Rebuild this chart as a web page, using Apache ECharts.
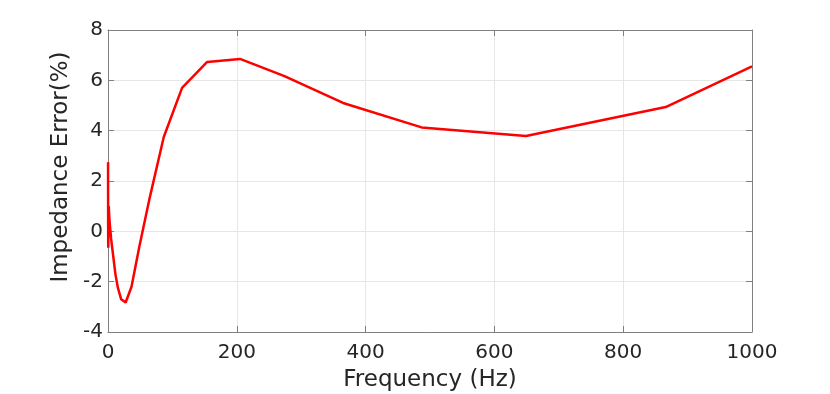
<!DOCTYPE html>
<html><head><meta charset="utf-8">
<script src="https://cdn.jsdelivr.net/npm/echarts@6/dist/echarts.min.js"></script>
<style>html,body{margin:0;padding:0;background:#fff}#c{width:830px;height:394px}</style>
</head><body><div id="c"></div>
<script>
const frequencies = [0.0866,0.115,0.154,0.205,0.274,0.365,0.487,0.649,0.866,1.15,1.54,2.05,2.74,3.65,4.87,6.49,8.66,11.5,15.4,20.5,27.4,36.5,48.7,64.9,86.6,115,154,205,274,365,487,649,866,1000];
const errors = [2.75,2.2,1.4,0.5,-0.2,-0.65,-0.3,0.4,0.9,1.0,0.8,0.55,0.3,0.05,-0.3,-0.65,-1.1,-1.7,-2.25,-2.7,-2.83,-2.2,-0.6,1.35,3.75,5.7,6.73,6.85,6.17,5.1,4.13,3.79,4.94,6.55];
const xTicks = [0,200,400,600,800,1000];
const yTicks = [-4,-2,0,2,4,6,8];

const font = 'DejaVu Sans';
const txt = '#262626';
const chart = echarts.init(document.getElementById('c'), null, {renderer:'canvas'});
const base = {
  axisLine:{show:true,onZero:false,lineStyle:{color:'#808080',width:1}},
  axisTick:{show:true,inside:true,length:6,lineStyle:{color:'#808080'}},
  splitLine:{show:false}
};
chart.setOption({
  animation:false,
  grid:{left:108,right:78,top:30,bottom:62,show:false,containLabel:false,outerBoundsMode:'none'},
  xAxis:[
    Object.assign({}, base, {type:'value',position:'bottom',min:xTicks[0],max:xTicks[xTicks.length-1],interval:200,
      name:'Frequency (Hz)',nameLocation:'middle',nameGap:37,
      nameTextStyle:{fontFamily:font,fontSize:23,color:txt},
      axisLabel:{fontFamily:font,fontSize:20,color:txt,margin:11,formatter:v=>String(v)},
      splitLine:{show:true,lineStyle:{color:'#e6e6e6',width:1}}}),
    Object.assign({}, base, {type:'value',position:'top',min:xTicks[0],max:xTicks[xTicks.length-1],interval:200,
      axisLabel:{show:false}})
  ],
  yAxis:[
    Object.assign({}, base, {type:'value',position:'left',min:yTicks[0],max:yTicks[yTicks.length-1],interval:2,
      name:'Impedance Error(%)',nameLocation:'middle',nameGap:28,
      nameTextStyle:{fontFamily:font,fontSize:23,color:txt,padding:[0,0,0,28]},
      axisLabel:{fontFamily:font,fontSize:20,color:txt,margin:5,formatter:v=>String(v)},
      splitLine:{show:true,lineStyle:{color:'#e6e6e6',width:1}}}),
    Object.assign({}, base, {type:'value',position:'right',min:yTicks[0],max:yTicks[yTicks.length-1],interval:2,
      axisLabel:{show:false}})
  ],
  series:[{
    type:'line',xAxisIndex:0,yAxisIndex:0,
    data:frequencies.map((f,i)=>[f,errors[i]]),
    showSymbol:false,
    lineStyle:{color:'#ff0000',width:2.5},
    itemStyle:{color:'#ff0000'}
  }]
});
</script></body></html>
